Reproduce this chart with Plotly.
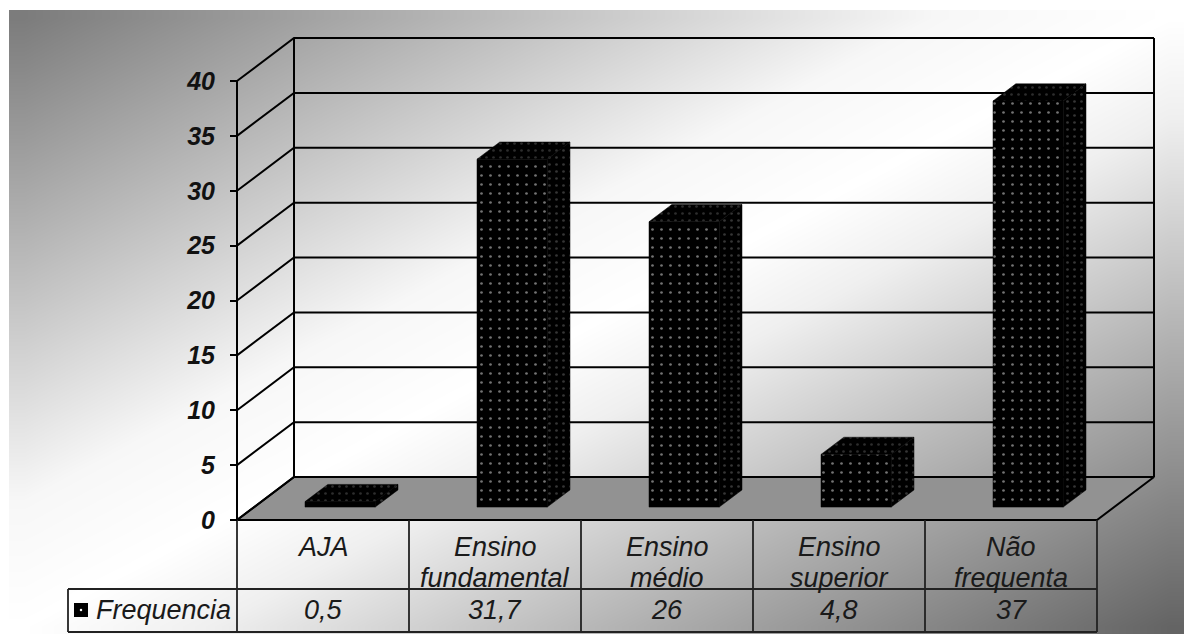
import plotly.graph_objects as go

# ---------------- data ----------------
categories = ["AJA", "Ensino fundamental", "Ensino médio", "Ensino superior", "Não frequenta"]
category_lines = [["AJA"], ["Ensino", "fundamental"], ["Ensino", "médio"],
                  ["Ensino", "superior"], ["Não", "frequenta"]]
values = [0.5, 31.7, 26, 4.8, 37]
series_name = "Frequencia"
y_ticks = [0, 5, 10, 15, 20, 25, 30, 35, 40]

# ---------------- layout geometry ----------------
W, H = 1184, 634
X0PX, X5PX = 237, 1097          # front floor edge (category 0 .. 5)
Y0PX, Y40PX = 520, 81           # front value axis (0 .. 40)
PXC = (X5PX - X0PX) / len(categories)
PXV = (Y0PX - Y40PX) / 40.0
DX = 57 / PXC                   # oblique depth offset (in category units)
DY = 43 / PXV                   # oblique depth offset (in value units)

def px_x(p):
    return (p - X0PX) / PXC

def px_y(p):
    return (Y0PX - p) / PXV

x_range = [px_x(0), px_x(W)]
y_range = [px_y(H), px_y(0)]

def P(x, v, d):
    return x + d * DX, v + d * DY

fig = go.Figure()

# ---- background gradient (style only) ----
NG = 40
bx0, bx1 = px_x(9), x_range[1]
by0, by1 = y_range[0], px_y(10)
sx = (bx1 - bx0) / NG
sy = (by1 - by0) / NG
hx = [bx0 + (i + 0.5) * sx for i in range(NG)]
hy = [by0 + (j + 0.5) * sy for j in range(NG)]
z = [[(i + 0.5) / NG + 1 - (j + 0.5) / NG for i in range(NG)] for j in range(NG)]
fig.add_trace(go.Heatmap(x=hx, y=hy, z=z, zmin=0, zmax=2, zsmooth="best", showscale=False,
                         hoverinfo="skip",
                         colorscale=[[0, "#787878"], [0.4, "#f7f7f7"], [0.5, "#ffffff"],
                                     [0.58, "#efefef"], [0.75, "#b4b4b4"], [1, "#606060"]]))

def poly(pts, **kw):
    xs = [p[0] for p in pts] + [pts[0][0]]
    ys = [p[1] for p in pts] + [pts[0][1]]
    fig.add_trace(go.Scatter(x=xs, y=ys, mode="lines", fill="toself", hoverinfo="skip",
                             showlegend=False, **kw))

def seg(pts, width=2, color="black"):
    fig.add_trace(go.Scatter(x=[p[0] for p in pts], y=[p[1] for p in pts], mode="lines",
                             line=dict(color=color, width=width), hoverinfo="skip",
                             showlegend=False))

n = len(categories)
vmax = y_ticks[-1]

# ---- floor ----
poly([P(0, 0, 0), P(n, 0, 0), P(n, 0, 1), P(0, 0, 1)],
     fillcolor="#929292", line=dict(color="black", width=2))

# ---- walls & gridlines ----
for t in y_ticks:
    seg([P(0, t, 0), P(0, t, 1), P(n, t, 1)])
seg([P(0, 0, 1), P(0, vmax, 1)])
seg([P(n, 0, 1), P(n, vmax, 1)])
seg([P(0, 0, 0), P(0, vmax, 0)])

# ---- 3D bars ----
bw = 0.408
d0, d1 = 0.3, 0.7
for i, v in enumerate(values):
    c = i + 0.5
    xl, xr = c - bw / 2, c + bw / 2
    # side face
    poly([P(xr, 0, d0), P(xr, 0, d1), P(xr, v, d1), P(xr, v, d0)],
         fillcolor="black", line=dict(color="black", width=0.5),
         fillpattern=dict(shape=".", bgcolor="black", fgcolor="#6a6a6a", size=7, solidity=0.12))
    # top face
    poly([P(xl, v, d0), P(xr, v, d0), P(xr, v, d1), P(xl, v, d1)],
         fillcolor="black", line=dict(color="black", width=0.5),
         fillpattern=dict(shape=".", bgcolor="black", fgcolor="#5a5a5a", size=7, solidity=0.12))
    # front face
    poly([P(xl, 0, d0), P(xr, 0, d0), P(xr, v, d0), P(xl, v, d0)],
         fillcolor="black", line=dict(color="black", width=0.5),
         fillpattern=dict(shape=".", bgcolor="black", fgcolor="#e6e6e6", size=9, solidity=0.07))

# ---- data table ----
row1 = px_y(589)
row2 = px_y(632)
left = px_x(68)
tcol = "#222222"
for k in range(n + 1):
    seg([(k, 0), (k, row2)], width=1.8, color=tcol)
seg([(left, row1), (n, row1)], width=1.8, color=tcol)
seg([(left, row2), (n, row2)], width=1.8, color=tcol)
seg([(left, row1), (left, row2)], width=1.8, color=tcol)

# legend key in table
key_x = px_x(81)
key_y = px_y(610)
fig.add_trace(go.Scatter(x=[key_x], y=[key_y], mode="markers", hoverinfo="skip", showlegend=False,
                         marker=dict(symbol="square", size=14, color="black")))
fig.add_trace(go.Scatter(x=[key_x], y=[key_y], mode="markers", hoverinfo="skip", showlegend=False,
                         marker=dict(symbol="circle", size=2.5, color="white")))

FONT = "Liberation Sans, Arial, sans-serif"
TF = dict(family=FONT, size=27, style="italic", color="#1a1a1a")
ann = []
line_y = [px_y(547), px_y(578)]
for i, lines in enumerate(category_lines):
    for j, s in enumerate(lines):
        ann.append(dict(x=i + 0.5, y=line_y[j], text=s, showarrow=False, xanchor="center",
                        yanchor="middle", font=TF))
    ann.append(dict(x=i + 0.5, y=key_y, text=f"{values[i]:g}".replace(".", ","), showarrow=False,
                    xanchor="center", yanchor="middle", font=TF))
ann.append(dict(x=px_x(233), y=key_y, text=series_name, showarrow=False, xanchor="right",
                yanchor="middle", font=TF))

fig.update_layout(
    width=W, height=H, margin=dict(l=0, r=0, t=0, b=0),
    paper_bgcolor="white", plot_bgcolor="white", showlegend=False,
    annotations=ann,
    xaxis=dict(range=x_range, visible=False, domain=[0, 1]),
    yaxis=dict(range=y_range, anchor="free", position=X0PX / W, showgrid=False, zeroline=False,
               showline=False, tickmode="array", tickvals=y_ticks,
               ticktext=[str(t) for t in y_ticks], ticks="outside", ticklen=7, tickwidth=2,
               tickcolor="black", ticklabelstandoff=10,
               tickfont=dict(family=FONT, size=25, weight="bold", style="italic", color="#111111")),
)

fig.write_html("out.html")
